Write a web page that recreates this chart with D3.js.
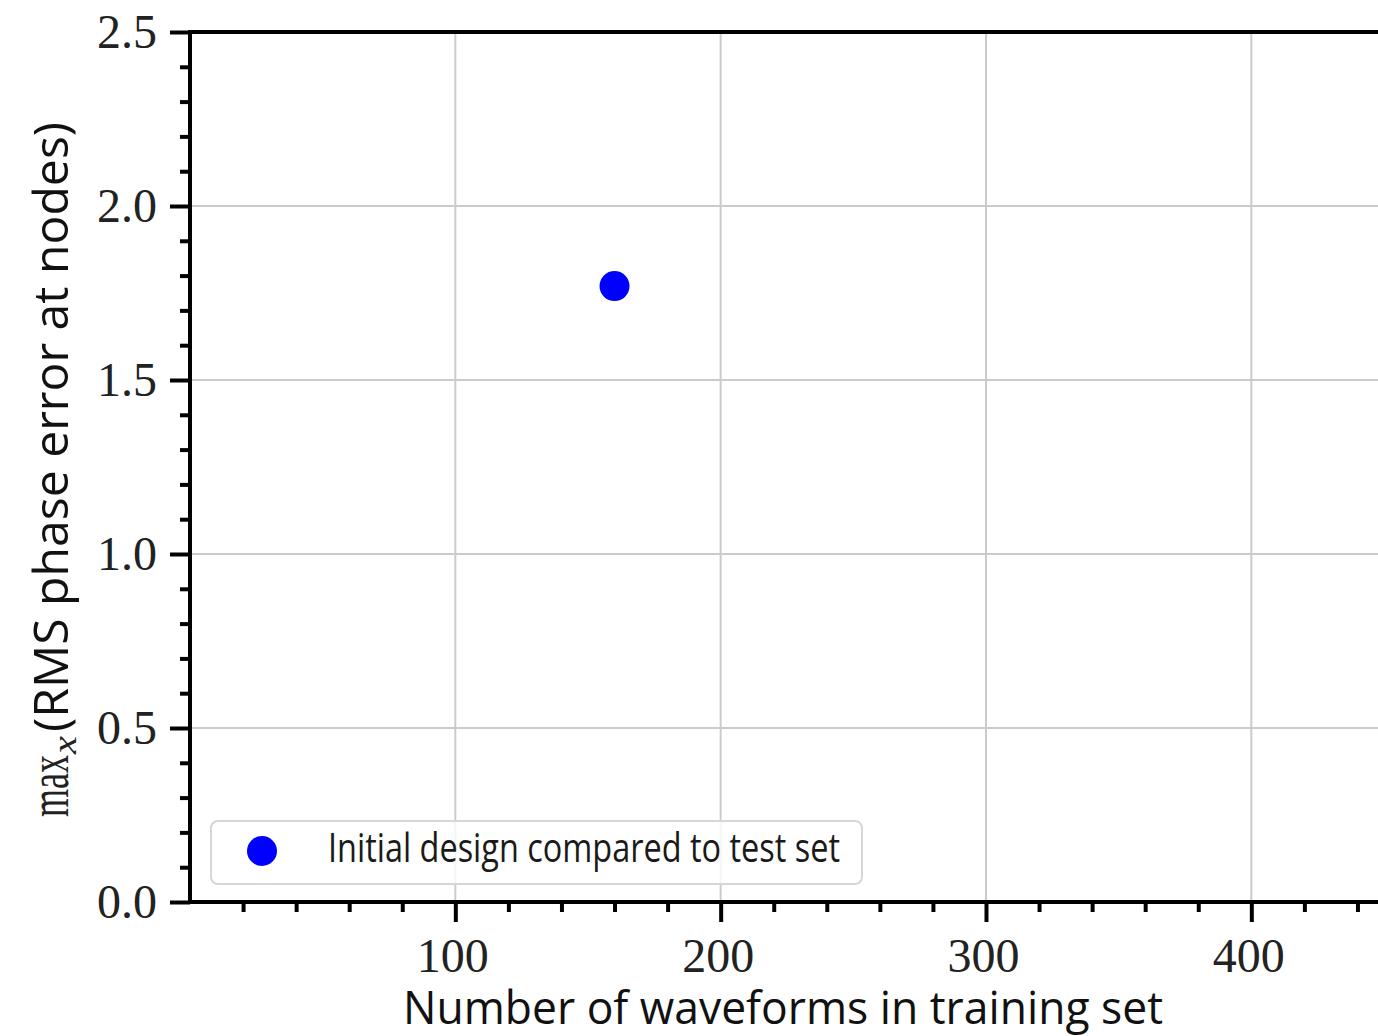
<!DOCTYPE html>
<html>
<head>
<meta charset="utf-8">
<script src="https://cdn.jsdelivr.net/npm/d3@7"></script>
<style>
  html, body { margin: 0; padding: 0; background: #fff; }
  svg { display: block; }
</style>
</head>
<body>
<svg id="chart" width="1378" height="1036"></svg>
<script>
// Training-set size vs. worst-case RMS phase error
const seriesName = "Initial design compared to test set";
const trainingSizes = [160];
const maxPhaseErrors = [1.77];

const xMajorTicks = [100, 200, 300, 400];
const xMinorTicks = [20, 40, 60, 80, 120, 140, 160, 180, 220, 240, 260, 280, 320, 340, 360, 380, 420, 440];
const yMajorTicks = [0.0, 0.5, 1.0, 1.5, 2.0, 2.5];
const yMinorTicks = [0.1, 0.2, 0.3, 0.4, 0.6, 0.7, 0.8, 0.9, 1.1, 1.2, 1.3, 1.4, 1.6, 1.7, 1.8, 1.9, 2.1, 2.2, 2.3, 2.4];

const W = 1378, H = 1036;
const plotLeft = 190, plotTop = 32, plotBottom = 902;
const pxPerUnit = 2.6533;
const xMax = 460;

const svg = d3.select("#chart");

const x = d3.scaleLinear().domain([0, xMax]).range([plotLeft, plotLeft + xMax * pxPerUnit]);
const y = d3.scaleLinear().domain([0, 2.5]).range([plotBottom, plotTop]);

const serif = "'Liberation Serif', 'DejaVu Serif', serif";
const sans = "'Open Sans', 'Liberation Sans', sans-serif";

// grid at major ticks
const grid = svg.append("g").attr("stroke", "#cbcbcb").attr("stroke-width", 2);
grid.selectAll("line.gx").data(xMajorTicks).join("line")
  .attr("x1", d => x(d)).attr("x2", d => x(d))
  .attr("y1", plotTop).attr("y2", plotBottom);
grid.selectAll("line.gy").data(yMajorTicks.filter(d => d > 0 && d < 2.5)).join("line")
  .attr("x1", plotLeft).attr("x2", W)
  .attr("y1", d => y(d)).attr("y2", d => y(d));

// points
svg.append("g").selectAll("circle").data(trainingSizes).join("circle")
  .attr("cx", (d, i) => x(d))
  .attr("cy", (d, i) => y(maxPhaseErrors[i]))
  .attr("r", 15)
  .attr("fill", "#0000ff");

// legend
const lg = svg.append("g");
lg.append("rect")
  .attr("x", 211).attr("y", 821).attr("width", 651).attr("height", 63)
  .attr("rx", 7).attr("ry", 7)
  .attr("fill", "#fff").attr("fill-opacity", 0.8)
  .attr("stroke", "#d6d6d6").attr("stroke-width", 2);
lg.append("circle").attr("cx", 262).attr("cy", 851).attr("r", 15).attr("fill", "#0000ff");
lg.append("text")
  .attr("x", 328).attr("y", 862)
  .attr("font-family", sans).attr("font-size", 40)
  .attr("fill", "#1a1a1a")
  .attr("textLength", 512).attr("lengthAdjust", "spacingAndGlyphs")
  .text(seriesName);

// axes
function styleAxis(g) {
  g.select(".domain").remove();
  g.selectAll(".tick line").attr("stroke", "#000").attr("stroke-width", 4);
  g.selectAll(".tick text").attr("font-family", serif).attr("font-size", 48).attr("fill", "#222");
}

svg.append("g").attr("transform", `translate(0,${plotBottom})`)
  .call(d3.axisBottom(x).tickValues(xMinorTicks).tickSize(10).tickFormat(""))
  .call(styleAxis);
svg.append("g").attr("transform", `translate(0,${plotBottom})`)
  .call(d3.axisBottom(x).tickValues(xMajorTicks).tickSize(20).tickPadding(16).tickFormat(d3.format("d")))
  .call(styleAxis)
  .call(g => g.selectAll(".tick text").attr("dx", -3));

svg.append("g").attr("transform", `translate(${plotLeft},0)`)
  .call(d3.axisLeft(y).tickValues(yMinorTicks).tickSize(10).tickFormat(""))
  .call(styleAxis);
svg.append("g").attr("transform", `translate(${plotLeft},0)`)
  .call(d3.axisLeft(y).tickValues(yMajorTicks).tickSize(20).tickPadding(13).tickFormat(d3.format(".1f")))
  .call(styleAxis);

// spines
const sp = svg.append("g").attr("stroke", "#000").attr("stroke-width", 4).attr("stroke-linecap", "square");
sp.append("line").attr("x1", plotLeft).attr("x2", plotLeft).attr("y1", plotTop).attr("y2", plotBottom);
sp.append("line").attr("x1", plotLeft).attr("x2", W + 5).attr("y1", plotTop).attr("y2", plotTop);
sp.append("line").attr("x1", plotLeft).attr("x2", W + 5).attr("y1", plotBottom).attr("y2", plotBottom);

// x axis title
svg.append("text")
  .attr("x", 403).attr("y", 1024)
  .attr("font-family", sans).attr("font-size", 46).attr("fill", "#111")
  .attr("textLength", 760).attr("lengthAdjust", "spacingAndGlyphs")
  .text("Number of waveforms in training set");

// y axis title: max_x(RMS phase error at nodes)
const yl = svg.append("g").attr("transform", "translate(68,469) rotate(-90)");
yl.append("text")
  .attr("x", -348).attr("y", 0)
  .attr("font-family", serif).attr("font-size", 56).attr("fill", "#222")
  .attr("textLength", 62).attr("lengthAdjust", "spacingAndGlyphs")
  .text("max");
yl.append("text")
  .attr("x", -285).attr("y", 8)
  .attr("font-family", serif).attr("font-style", "italic").attr("font-size", 34).attr("fill", "#222")
  .attr("textLength", 18).attr("lengthAdjust", "spacingAndGlyphs")
  .text("x");
yl.append("text")
  .attr("x", -263).attr("y", 0)
  .attr("font-family", sans).attr("font-size", 48).attr("fill", "#111")
  .attr("textLength", 610).attr("lengthAdjust", "spacingAndGlyphs")
  .text("(RMS phase error at nodes)");
</script>
</body>
</html>
